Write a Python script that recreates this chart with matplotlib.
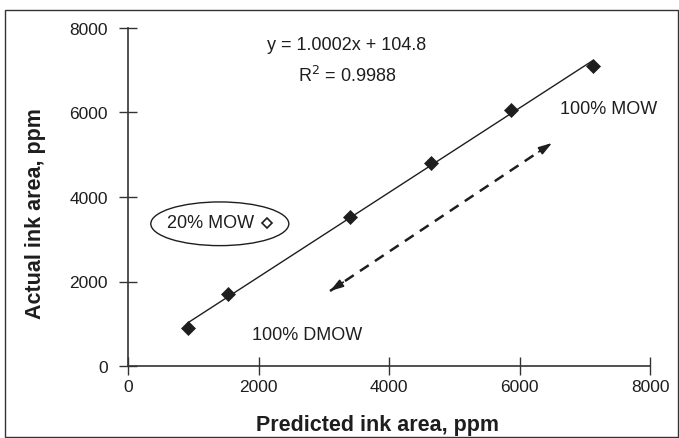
import numpy as np
import matplotlib
matplotlib.use("Agg")
import matplotlib.pyplot as plt
from matplotlib.patches import Ellipse, Rectangle

plt.rcParams['font.family'] = ['Liberation Sans', 'DejaVu Sans']
plt.rcParams['mathtext.fontset'] = 'custom'
plt.rcParams['mathtext.rm'] = 'Liberation Sans'

# data
predicted = [920, 1530, 3400, 4640, 5870, 7120]
actual = [900, 1700, 3530, 4800, 6060, 7100]
mow20_x, mow20_y = 2130, 3385
slope, intercept = 1.0002, 104.8
r2 = 0.9988
ticks = [0, 2000, 4000, 6000, 8000]

ink = '#1e1e1e'

fig = plt.figure(figsize=(6.79, 4.39), dpi=100)
ax = fig.add_axes([128 / 679, 1 - 367 / 439, 522 / 679, 338 / 439])

# frame round the whole figure
fig.patches.append(Rectangle((5 / 679, 1.5 / 439), 673 / 679, 426.5 / 439,
                             transform=fig.transFigure, fill=False,
                             ec='#333333', lw=1.0))

# trend line over the data range
xs = np.array([min(predicted), max(predicted)])
ax.plot(xs, slope * xs + intercept, color=ink, lw=1.0, zorder=2)
ax.plot(predicted, actual, 'D', color=ink, ms=7.3, mew=0.5, zorder=3)

# 20% MOW outlier inside an ellipse
ax.plot([mow20_x], [mow20_y], 'D', mfc='white', mec=ink, ms=5.5, mew=1.2)
ax.text(1272, mow20_y, '20% MOW', ha='center', va='center', fontsize=13, color=ink)
ax.add_patch(Ellipse((1407, 3366), 2115, 1034, fill=False, ec=ink, lw=1.0))

# dashed double arrow
a0, a1 = (3096, 1775), (6498, 5278)
ax.plot([a0[0], a1[0]], [a0[1], a1[1]], color=ink, lw=1.8, ls=(0, (4.2, 3.0)))
for tip, base in [(a1, a0), (a0, a1)]:
    bx = tip[0] + (base[0] - tip[0]) * 0.06
    by = tip[1] + (base[1] - tip[1]) * 0.06
    ax.annotate('', xy=tip, xytext=(bx, by),
                arrowprops=dict(arrowstyle='-|>,head_length=0.8,head_width=0.25',
                                color=ink, lw=1.2, shrinkA=0, shrinkB=0))

ax.text(3356, 7598, 'y = %.4fx + %.1f' % (slope, intercept), ha='center', va='center',
        fontsize=13, color=ink)
ax.text(3356, 6887, 'R$^{\\mathsf{2}}$ = %.4f' % r2, ha='center', va='center', fontsize=13, color=ink)
ax.text(7372, 6090, '100% MOW', ha='center', va='center', fontsize=13, color=ink)
ax.text(2743, 745, '100% DMOW', ha='center', va='center', fontsize=13, color=ink)

ax.set_xlim(0, 8000)
ax.set_ylim(0, 8000)
ax.set_xticks(ticks)
ax.set_yticks(ticks)
for s in ['top', 'right']:
    ax.spines[s].set_visible(False)
for s in ['left', 'bottom']:
    ax.spines[s].set_color('#333333')
    ax.spines[s].set_linewidth(1.2)
ax.tick_params(axis='both', direction='inout', length=13, width=1.0,
               colors='#333333', labelsize=12.5, labelcolor=ink)
ax.tick_params(axis='x', pad=3)
ax.tick_params(axis='y', pad=8)

ax.set_xlabel('Predicted ink area, ppm', fontsize=15.5, fontweight='bold', color=ink)
ax.set_ylabel('Actual ink area, ppm', fontsize=15.5, fontweight='bold', color=ink)
ax.xaxis.set_label_coords(0.478, -0.142)
ax.yaxis.set_label_coords(-0.157, 0.453)

fig.savefig('out.png', dpi=100)
